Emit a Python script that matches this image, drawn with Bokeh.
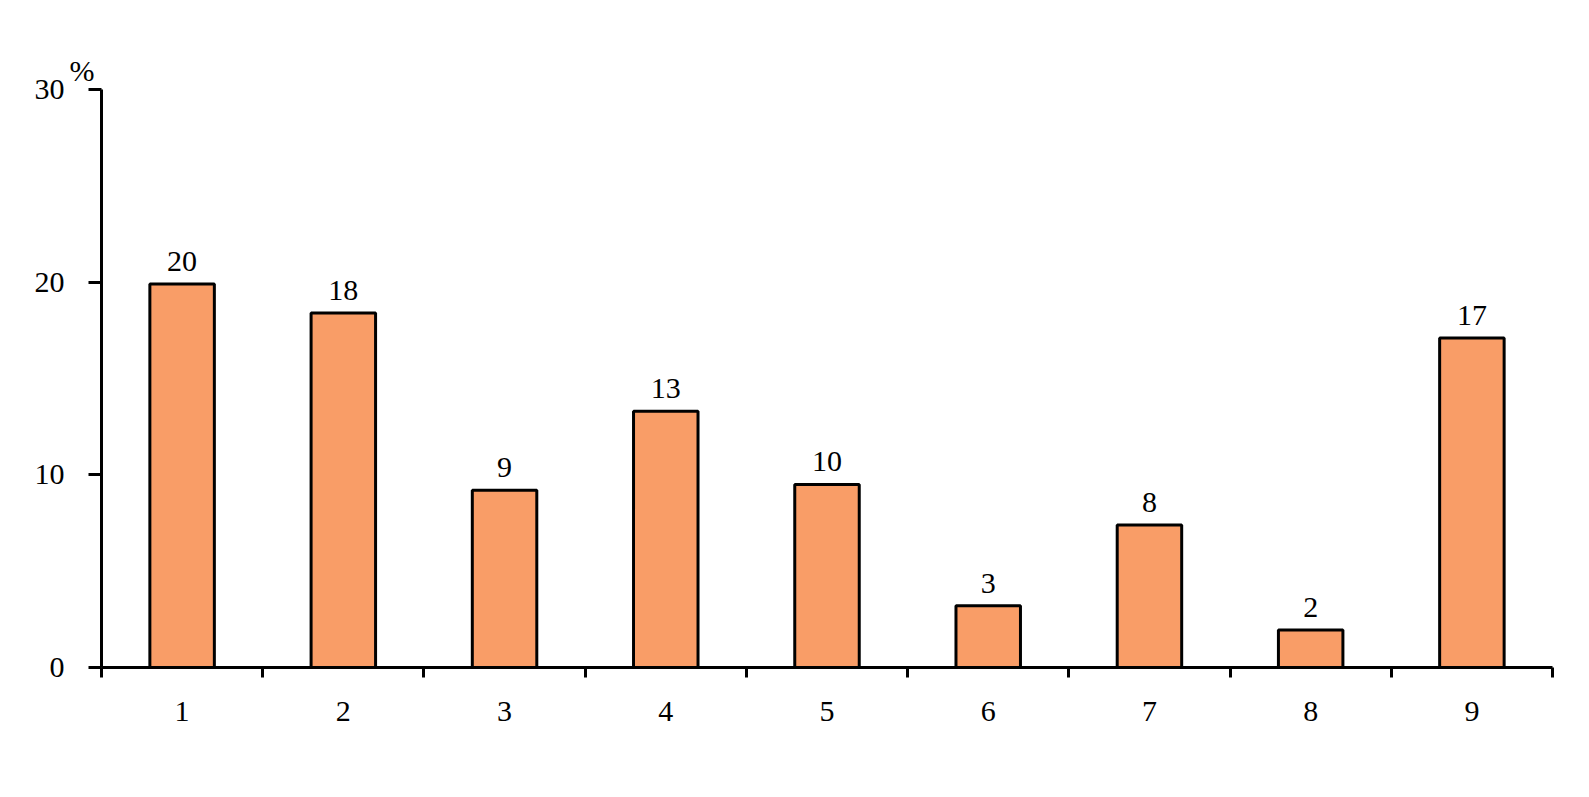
from bokeh.plotting import figure
from bokeh.models import ColumnDataSource, FixedTicker, Range1d, LabelSet, Title
from bokeh.embed import file_html
from bokeh.resources import INLINE

categories = ["1", "2", "3", "4", "5", "6", "7", "8", "9"]
values = [19.9, 18.4, 9.2, 13.3, 9.5, 3.2, 7.4, 1.95, 17.1]
value_labels = ["20", "18", "9", "13", "10", "3", "8", "2", "17"]
y_ticks = [0, 10, 20, 30]
unit_label = "%"

FONT = "Liberation Serif"
FS = "30px"
BAR_COLOR = "#F99D67"

xpos = [i + 0.5 for i in range(len(categories))]
src = ColumnDataSource(dict(x=xpos, top=values, lab=value_labels))

W, H = 1573, 781
p = figure(width=W, height=H, output_backend="svg", toolbar_location=None,
           x_range=Range1d(0, len(categories)), y_range=Range1d(0, 30))
p.min_border_left = 101
p.min_border_right = 21
p.min_border_top = 89
p.min_border_bottom = 114
p.outline_line_color = None
p.grid.visible = False
p.background_fill_color = "white"
p.border_fill_color = "white"

p.vbar(x="x", top="top", width=0.4, bottom=0, source=src,
       fill_color=BAR_COLOR, line_color="black", line_width=3)

labels = LabelSet(x="x", y="top", text="lab", source=src, text_align="center",
                  text_baseline="alphabetic", y_offset=13, text_font=FONT,
                  text_font_size=FS, text_color="black")
p.add_layout(labels)

# x axis: labels at category centres, ticks at boundaries
xa = p.xaxis[0]
xa.ticker = FixedTicker(ticks=xpos, minor_ticks=list(range(len(categories) + 1)))
xa.major_label_overrides = {x: c for x, c in zip(xpos, categories)}
xa.major_tick_out = 0
xa.major_tick_in = 0
xa.minor_tick_out = 10
xa.minor_tick_in = 0
xa.minor_tick_line_width = 3
xa.minor_tick_line_color = "black"
xa.axis_line_width = 3
xa.axis_line_color = "black"
xa.major_label_standoff = 24
xa.major_label_text_font = FONT
xa.major_label_text_font_size = FS
xa.major_label_text_color = "black"

ya = p.yaxis[0]
ya.ticker = FixedTicker(ticks=y_ticks)
ya.major_tick_out = 13
ya.major_tick_in = 0
ya.major_tick_line_width = 3
ya.major_tick_line_color = "black"
ya.minor_tick_line_color = None
ya.axis_line_width = 3
ya.axis_line_color = "black"
ya.major_label_standoff = 24
ya.major_label_text_font = FONT
ya.major_label_text_font_size = FS
ya.major_label_text_color = "black"

pct = Title(text=unit_label, align="left", offset=-32, standoff=5,
            text_font=FONT, text_font_size=FS, text_font_style="normal",
            text_color="black")
p.add_layout(pct, "above")

open("out.html", "w").write(file_html(p, INLINE))
